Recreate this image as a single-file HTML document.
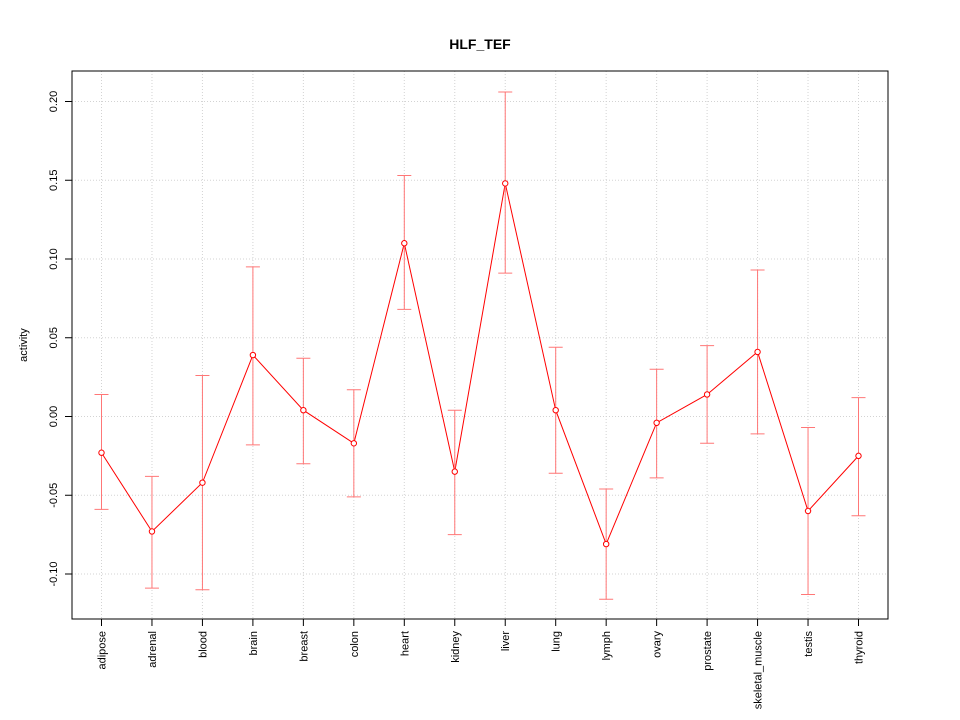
<!DOCTYPE html>
<html><head><meta charset="utf-8"><style>
html,body{margin:0;padding:0;background:#fff;}
svg{display:block;font-family:"Liberation Sans",Arial,sans-serif;}
</style></head><body>
<svg id="chart" width="960" height="720">
<rect x="0" y="0" width="960" height="720" fill="#fff"/>
<text x="480" y="49" text-anchor="middle" font-size="14" font-weight="bold">HLF_TEF</text>
<text transform="translate(27,345) rotate(-90)" text-anchor="middle" font-size="11">activity</text>
<g id="grid"></g><g id="axes"></g><g id="marks"></g>
<rect x="72" y="71" width="816" height="548" fill="none" stroke="#000"/>
</svg>
<script>
const categories=["adipose","adrenal","blood","brain","breast","colon","heart","kidney","liver","lung","lymph","ovary","prostate","skeletal_muscle","testis","thyroid"];
const values=[-0.023,-0.073,-0.042,0.039,0.004,-0.017,0.110,-0.035,0.148,0.004,-0.081,-0.004,0.014,0.041,-0.060,-0.025];
const upper=[0.014,-0.038,0.026,0.095,0.037,0.017,0.153,0.004,0.206,0.044,-0.046,0.030,0.045,0.093,-0.007,0.012];
const lower=[-0.059,-0.109,-0.110,-0.018,-0.030,-0.051,0.068,-0.075,0.091,-0.036,-0.116,-0.039,-0.017,-0.011,-0.113,-0.063];
const yTicks=[-0.10,-0.05,0.00,0.05,0.10,0.15,0.20];
const yTickLabels=["-0.10","-0.05","0.00","0.05","0.10","0.15","0.20"];
const NS="http://www.w3.org/2000/svg";
function xs(i){return 101.5+i*(858-101)/(categories.length-1);}
function ys(v){return 416.5-v*1575;}
function mk(tag,attrs,parent){const e=document.createElementNS(NS,tag);for(const k in attrs)e.setAttribute(k,attrs[k]);parent.appendChild(e);return e;}
const grid=document.getElementById('grid'),axes=document.getElementById('axes'),marks=document.getElementById('marks');
yTicks.forEach((t,i)=>{
 const g=mk('line',{x1:72,x2:888,y1:ys(t),y2:ys(t),stroke:'#d3d3d3','stroke-dasharray':'1,2'},grid);
 
 
 const tk=mk('line',{x1:65,x2:72,y1:ys(t),y2:ys(t),stroke:'#000'},axes);
 
 
 const lb=mk('text',{transform:`translate(57,${ys(t)}) rotate(-90)`,'text-anchor':'middle','font-size':11},axes);
 lb.textContent=yTickLabels[i];
 
 
});
categories.forEach((c,i)=>{
 const x=xs(i);
 const g=mk('line',{x1:x,x2:x,y1:71,y2:619,stroke:'#d3d3d3','stroke-dasharray':'1,2'},grid);
 
 
 const tk=mk('line',{x1:x,x2:x,y1:619,y2:626,stroke:'#000'},axes);
 
 
 const lb=mk('text',{transform:`translate(${x+4},631) rotate(-90)`,'text-anchor':'end','font-size':11},axes);
 lb.textContent=c;
 
 
});
const pl=mk('polyline',{points:values.map((v,i)=>xs(i)+','+ys(v)).join(' '),fill:'none',stroke:'#f00'},marks);


categories.forEach((c,i)=>{
 const x=xs(i);
 const e=mk('path',{d:`M${x},${ys(upper[i])}V${ys(lower[i])}M${x-7},${ys(upper[i])}H${x+7}M${x-7},${ys(lower[i])}H${x+7}`,stroke:'#f77',fill:'none'},marks);
 
 
 const p=mk('circle',{cx:x,cy:ys(values[i]),r:2.7,fill:'#fff',stroke:'#f00'},marks);
 
 
});
</script>
</body></html>
